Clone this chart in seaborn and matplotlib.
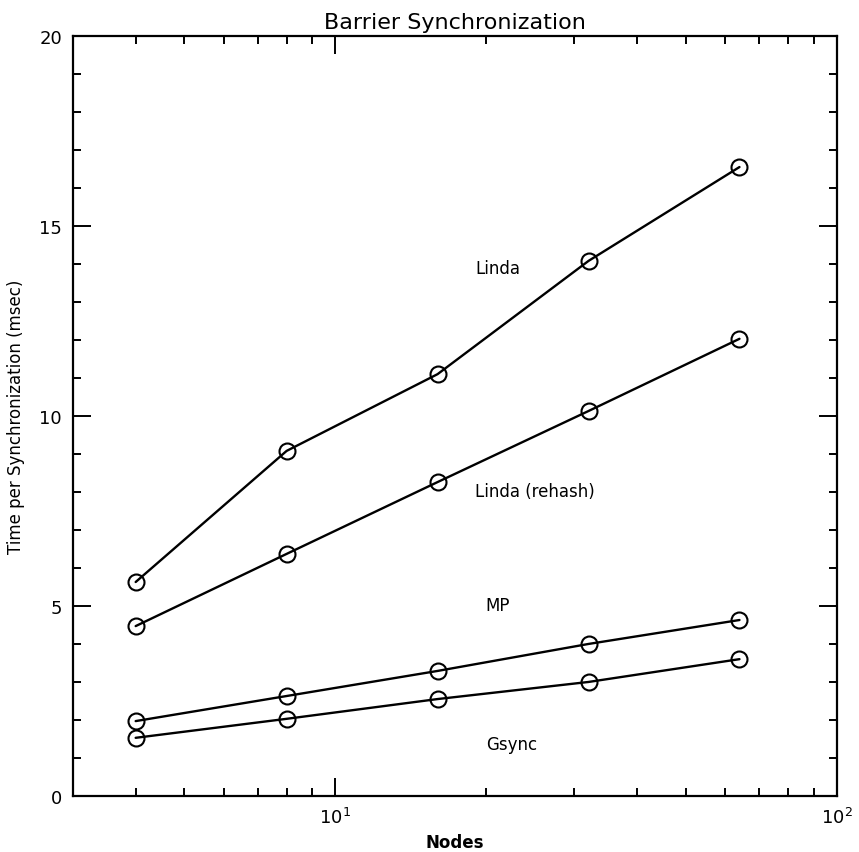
import matplotlib
matplotlib.use("Agg")
import matplotlib.pyplot as plt
import seaborn as sns
import pandas as pd
from matplotlib.ticker import LogLocator, MultipleLocator

nodes = [4, 8, 16, 32, 64]
linda = [5.63, 9.08, 11.1, 14.08, 16.55]
linda_rehash = [4.47, 6.37, 8.26, 10.13, 12.03]
mp = [1.97, 2.63, 3.29, 4.0, 4.63]
gsync = [1.53, 2.03, 2.55, 3.0, 3.6]

series_names = ["Linda", "Linda (rehash)", "MP", "Gsync"]
series_values = [linda, linda_rehash, mp, gsync]

# curve labels: (text, x, y) in data coordinates
curve_labels = [
    ("Linda", 19.0, 13.9),
    ("Linda (rehash)", 19.0, 8.03),
    ("MP", 19.9, 5.03),
    ("Gsync", 20.0, 1.37),
]

rows = []
for name, vals in zip(series_names, series_values):
    for n, v in zip(nodes, vals):
        rows.append({"Nodes": n, "Time": v, "series": name})
df = pd.DataFrame(rows)

sns.set_theme(style="ticks")
plt.rcParams["font.family"] = ["DejaVu Sans"]
plt.rcParams["text.color"] = "black"
plt.rcParams["axes.labelcolor"] = "black"

fig = plt.figure(figsize=(8.59, 8.53), dpi=100)
ax = fig.add_axes([0.085, 0.0657, 0.889, 0.891])

sns.lineplot(
    data=df, x="Nodes", y="Time", hue="series", hue_order=series_names,
    palette=["black"] * 4, marker="o", markersize=11.5, markerfacecolor="none",
    markeredgecolor="black", markeredgewidth=1.5, linewidth=1.7,
    estimator=None, legend=False, ax=ax,
)

ax.set_xscale("log")
ax.set_xlim(3, 100)
ax.set_ylim(0, 20)
ax.xaxis.set_major_locator(LogLocator(base=10, numticks=10))
ax.xaxis.set_minor_locator(LogLocator(base=10, subs=range(2, 10), numticks=20))
ax.yaxis.set_major_locator(MultipleLocator(5))
ax.yaxis.set_minor_locator(MultipleLocator(1))

ax.tick_params(which="both", direction="in", top=True, right=True, width=1.4,
               colors="black", labelsize=13)
ax.tick_params(which="major", length=13, pad=8)
ax.tick_params(which="minor", length=6)
for s in ax.spines.values():
    s.set_linewidth(1.6)
    s.set_color("black")

ax.set_xlabel("Nodes", fontsize=12, fontweight="bold", labelpad=4, color="black")
ax.set_ylabel("Time per Synchronization (msec)", fontsize=12, labelpad=10,
              color="black")
ax.set_title("Barrier Synchronization", fontsize=16, pad=6, color="black")

for text, x, y in curve_labels:
    ax.text(x, y, text, fontsize=12, ha="left", va="center", color="black")

fig.savefig("out.png", dpi=100, facecolor="white")
